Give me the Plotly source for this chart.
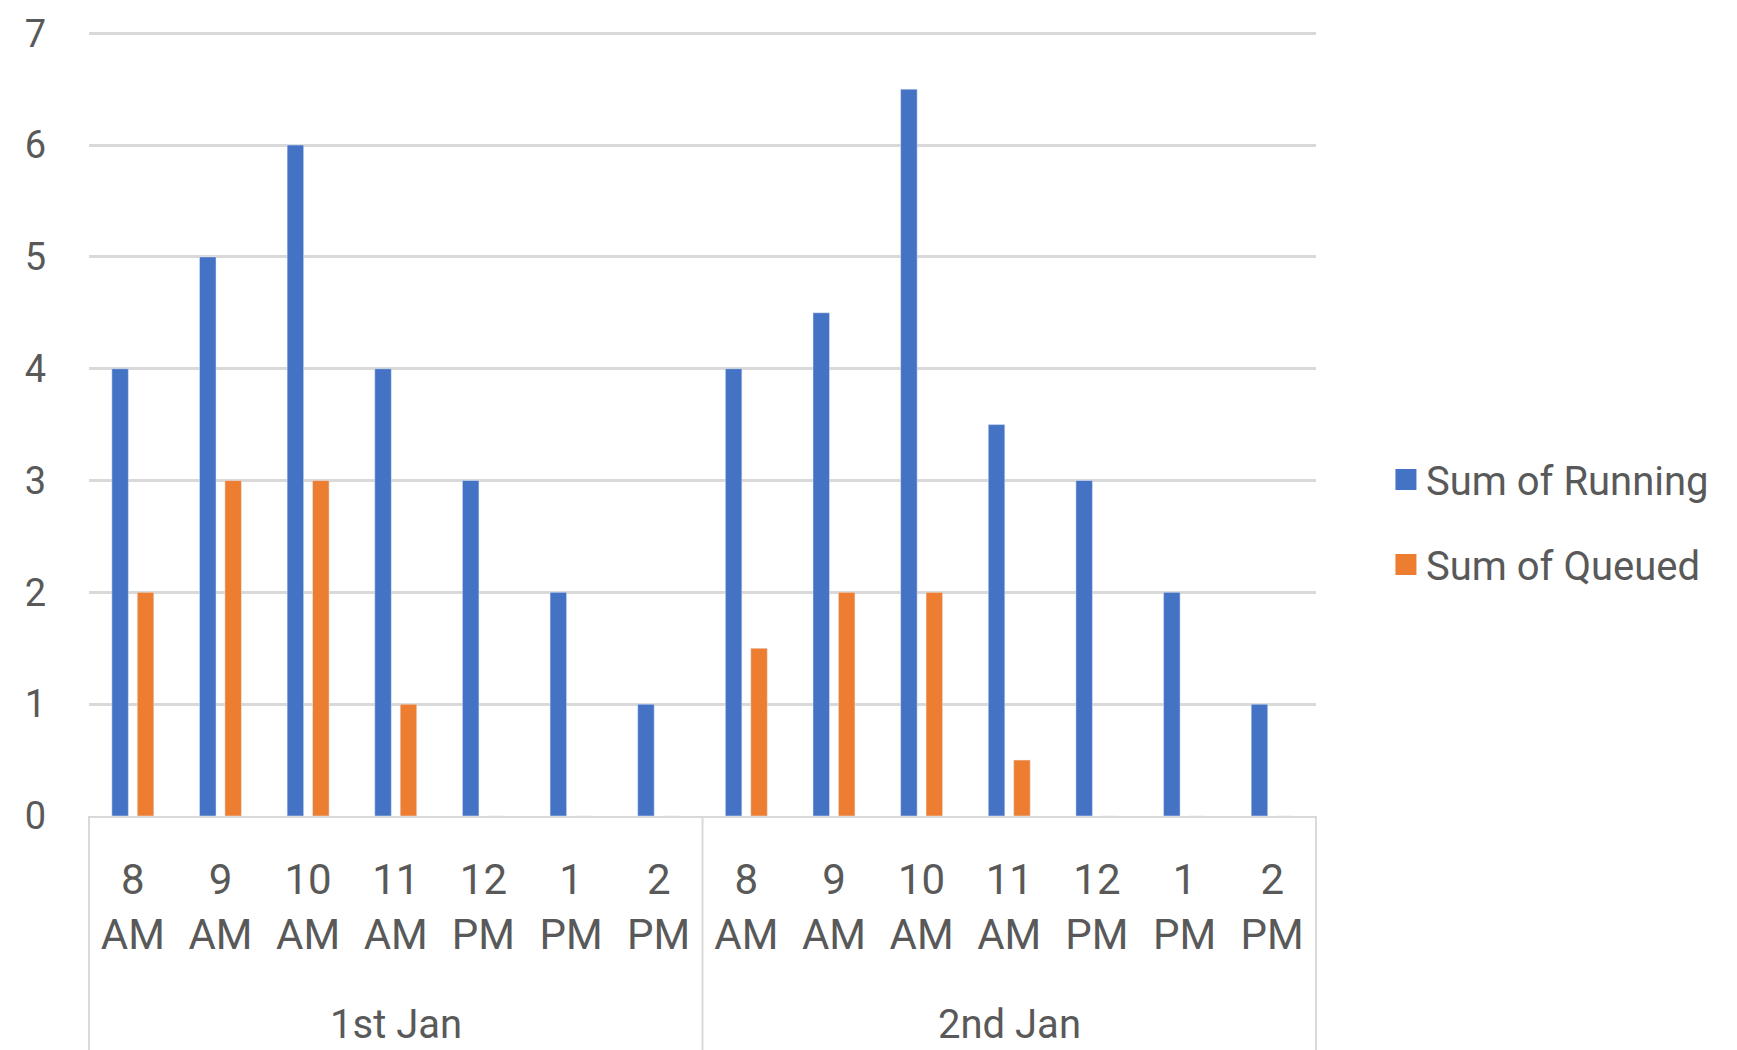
import plotly.graph_objects as go

dates = ["1st Jan"] * 7 + ["2nd Jan"] * 7
hours = ["8 AM", "9 AM", "10 AM", "11 AM", "12 PM", "1 PM", "2 PM"] * 2
running = [4, 5, 6, 4, 3, 2, 1, 4, 4.5, 6.5, 3.5, 3, 2, 1]
queued = [2, 3, 3, 1, 0, 0, 0, 1.5, 2, 2, 0.5, 0, 0, 0]
date_groups = ["1st Jan", "2nd Jan"]

FONT = "Roboto, Lato, sans-serif"
GRAY = "#595959"
BLUE = "#4472C4"
ORANGE = "#ED7D31"
LINE = "#d9d9d9"

keys = [f"{d} {h}" for d, h in zip(dates, hours)]
labels = [h.replace(" ", "<br>") for h in hours]

fig = go.Figure()
fig.add_trace(go.Bar(x=keys, y=running, name="Sum of Running",
                     marker_color=BLUE, showlegend=False))
fig.add_trace(go.Bar(x=keys, y=queued, name="Sum of Queued",
                     marker_color=ORANGE, showlegend=False))
# legend proxies (larger square swatches)
for nm, col, grp in [("Sum of Running", BLUE, "a"), ("Sum of Queued", ORANGE, "b")]:
    fig.add_trace(go.Scatter(x=[None], y=[None], mode="markers", name=nm,
                             legendgroup=grp,
                             marker=dict(symbol="square", size=16, color=col,
                                         line=dict(color=col, width=5))))

# date group labels and dividers
n = len(keys)
for g in date_groups:
    idx = [i for i, d in enumerate(dates) if d == g]
    mid = idx[len(idx) // 2]
    fig.add_annotation(x=keys[mid], y=-0.265, xref="x", yref="paper",
                       yanchor="middle", text=g, showarrow=False,
                       font=dict(size=40, color=GRAY, family=FONT))
bounds = sorted({0.0, 1.0} | {i / n for i in range(1, n) if dates[i] != dates[i - 1]})
for b in bounds:
    fig.add_shape(type="line", xref="paper", yref="paper", x0=b, x1=b,
                  y0=0, y1=-0.31, line=dict(color=LINE, width=2))

fig.update_layout(
    width=1737, height=1050,
    margin=dict(l=81, r=429, t=23, b=242, autoexpand=False),
    plot_bgcolor="white", paper_bgcolor="white",
    barmode="group", bargap=0.42, bargroupgap=0.35,
    font=dict(family=FONT, size=40, color=GRAY),
    legend=dict(x=1.057, y=0.47, xanchor="left", yanchor="top",
                font=dict(size=40, color=GRAY), tracegroupgap=30,
                itemsizing="trace", bgcolor="rgba(0,0,0,0)"),
    showlegend=True,
)
fig.update_yaxes(range=[0, 7.02], tickvals=list(range(0, 8)), showgrid=True,
                 gridcolor=LINE, gridwidth=2.5, automargin=False,
                 zeroline=False, showline=False, ticks="", ticklabelstandoff=42,
                 tickfont=dict(size=38, color=GRAY))
fig.update_xaxes(type="category", tickvals=keys, ticktext=labels, automargin=False,
                 showline=True, linecolor=LINE, linewidth=2, showgrid=False,
                 tickfont=dict(size=42, color=GRAY), ticks="", ticklabelstandoff=26)

fig.write_html("out.html")
